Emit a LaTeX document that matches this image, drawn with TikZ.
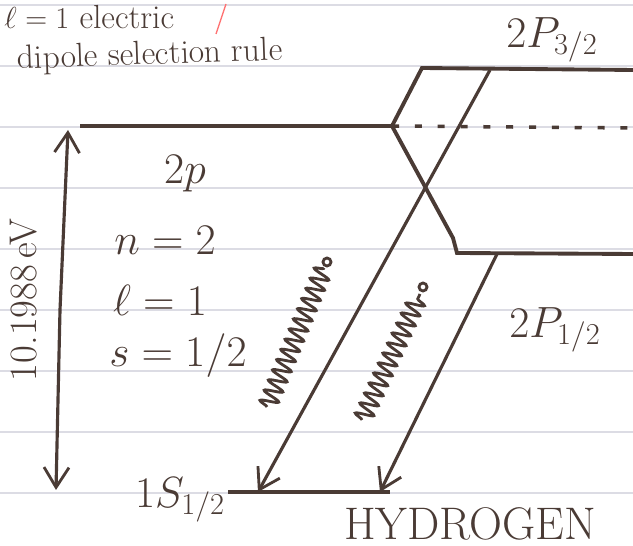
\documentclass[tikz,border=0pt]{standalone}
\usepackage{amsmath}
\usepackage{amssymb}
\usepackage{tikz}
\usepackage{xcolor}
\usetikzlibrary{arrows.meta,decorations.pathmorphing}
\definecolor{ink}{HTML}{4A3B35}
\definecolor{rule}{HTML}{DCDCE4}
\tikzset{
  level/.style={ink,line width=2.2pt},
  photon/.style={ink,line width=1.6pt,decorate,decoration={snake,amplitude=1.8mm,segment length=2.2mm}},
  hand/.style={ink,font=\fontsize{24}{28}\selectfont},
  small hand/.style={ink,inner sep=0pt,font=\fontsize{19}{22}\selectfont},
  barb/.style={-{Straight Barb[length=4mm,width=5mm,line width=1.6pt]}},
}

\begin{document}
\begin{tikzpicture}[x=0.02cm,y=-0.02cm]
    \useasboundingbox (0,0) rectangle (633,546);
    \clip (0,0) rectangle (633,546);
    % ruled paper
    \foreach \y in {5,66,127,188,249,310,371,432,493}
        \draw [rule,line width=0.6pt] (0,\y)--(633,\y);
    \draw [red!55!white,line width=0.8pt] (226,4)--(216,34);

    % levels
    \coordinate (p2L) at (80,126);
    \coordinate (p2R) at (392,126);
    \coordinate (p32a) at (422,68);
    \coordinate (p32b) at (490,70);
    \coordinate (p32c) at (633,70);
    \coordinate (p12a) at (457,253);
    \coordinate (p12b) at (497,254);
    \coordinate (p12c) at (633,254);
    \coordinate (s1L) at (228,492);
    \coordinate (s1R) at (390,492);
    \coordinate (s1a) at (258,492);
    \coordinate (s1b) at (380,492);
    \draw [level] (p2L)--(p2R)--(p32a)--(p32c);
    \draw [level] (p2R)--(453,238)--(p12a)--(p12c);
    \draw [level] (s1L)--(s1R);
    \draw [ink,line width=2pt,dash pattern=on 4pt off 9pt] (p2R)--(633,128);

    % transitions
    \draw [level,line width=1.8pt,barb] (p32b)--(s1a);
    \draw [level,line width=1.8pt,barb] (p12b)--(s1b);
    \draw [photon] (267,407)--(324,268);
    \draw [ink,line width=1.6pt] (327,262) circle (4);
    \draw [photon] (362,420)--(420,294);
    \draw [ink,line width=1.6pt] (423,287) circle (4);

    % energy gap
    \coordinate (gapT) at (68,130);
    \coordinate (gapB) at (56,490);
    \draw [ink,line width=1.8pt,barb] (60,310)--(gapT);
    \draw [ink,line width=1.8pt,barb] (60,310)--(gapB);
    \node [hand,rotate=90,font=\fontsize{22}{26}\selectfont] (gap) at (24,300) {10.1988\,eV};

    % labels
    \node [small hand,anchor=west] (rule1) at (4,17) {$\ell=1$ electric};
    \node [small hand,rotate=2] (rule2) at (150,56) {dipole selection rule};
    \node [hand] (t32) at (552,40) {$2P_{3/2}$};
    \node [hand] (t2p) at (185,174) {$2p$};
    \node [hand] (tn) at (165,240) {$n=2$};
    \node [hand] (tl) at (160,300) {$\ell=1$};
    \node [hand] (ts) at (178,356) {$s=1/2$};
    \node [hand] (t1s) at (180,500) {$1S_{1/2}$};
    \node [hand] (t12) at (555,330) {$2P_{1/2}$};
    \node [hand,font=\fontsize{26}{30}\selectfont] (th) at (470,524) {HYDROGEN};
\end{tikzpicture}
\end{document}
